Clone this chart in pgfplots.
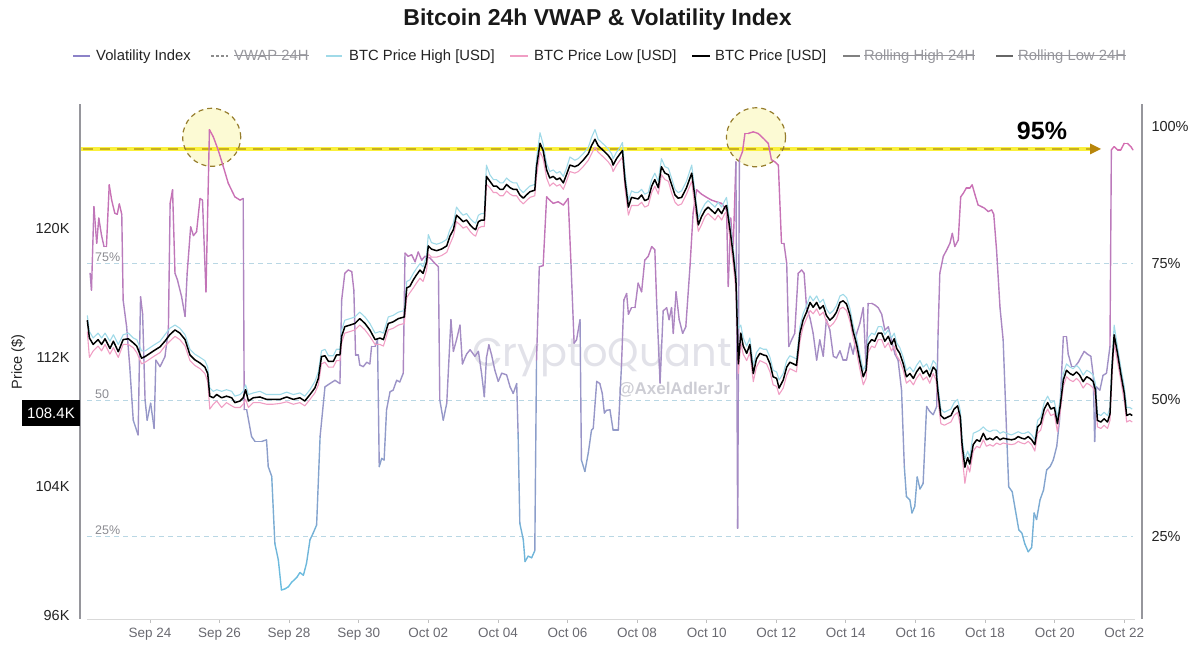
\documentclass[border=0pt]{standalone}
\usepackage{pgfplots}
\pgfplotsset{compat=1.18}
\usepackage{pgfplotstable}
\usepackage{fontspec}
\setmainfont{Liberation Sans}
\newfontfamily\wmfont{Poppins}

\definecolor{hicol}{RGB}{160,218,232}
\definecolor{locol}{RGB}{240,158,196}
\definecolor{gridc}{RGB}{185,215,228}
\definecolor{axc}{RGB}{150,150,156}
\definecolor{ticktxt}{RGB}{35,35,35}
\definecolor{xtxt}{RGB}{105,105,112}
\definecolor{yel}{RGB}{250,240,60}
\definecolor{yeldash}{RGB}{200,175,30}
\definecolor{gold}{RGB}{184,134,11}
\definecolor{circfill}{RGB}{252,250,212}
\definecolor{circline}{RGB}{150,125,45}
\definecolor{wm}{RGB}{226,226,233}
\definecolor{wm2}{RGB}{205,205,212}
\definecolor{volleg}{RGB}{140,130,200}
\definecolor{legtxt}{RGB}{35,35,35}
\definecolor{legoff}{RGB}{150,150,156}
\definecolor{inlab}{RGB}{140,140,146}

\newcommand{\legfont}{\fontsize{14.8}{17}\selectfont}

\pgfplotstableread{
d p h l
-1.80 114.3 114.6 113.6
-1.74 113.2 113.6 112.0
-1.63 112.8 113.2 112.4
-1.49 113.1 113.5 112.7
-1.39 112.8 113.2 112.4
-1.29 113.15 113.5 112.8
-1.15 112.55 113.0 112.2
-1.05 113.0 113.4 112.6
-0.91 112.35 112.8 112.0
-0.77 113.1 113.4 112.8
-0.62 113.15 113.5 112.8
-0.48 112.9 113.2 112.6
-0.38 112.7 113.1 112.3
-0.24 111.95 112.4 111.6
-0.14 112.05 112.4 111.7
0 112.25 112.6 111.9
0.14 112.45 112.8 112.1
0.29 112.65 113.0 112.3
0.43 113.0 113.4 112.7
0.57 113.4 113.8 113.0
0.72 113.7 114.0 113.3
0.86 113.5 113.8 113.1
1.01 113.1 113.4 112.7
1.15 112.15 112.5 111.8
1.29 111.85 112.2 111.5
1.44 111.65 112.0 111.3
1.58 111.4 111.8 111.0
1.66 111.0 111.4 110.5
1.72 109.6 110.1 108.8
1.82 109.5 109.9 109.1
1.92 109.7 110.0 109.3
2.06 109.5 109.9 108.9
2.20 109.6 110.0 109.2
2.35 109.5 109.9 109.0
2.44 109.2 109.6 108.9
2.59 109.3 109.7 108.9
2.68 109.5 109.9 109.1
2.75 110.0 110.3 109.4
2.83 109.3 109.7 108.9
2.97 109.5 109.8 109.2
3.16 109.55 109.9 109.2
3.35 109.4 109.7 109.1
3.54 109.4 109.7 109.1
3.74 109.4 109.7 109.15
3.93 109.55 109.85 109.25
4.12 109.4 109.7 109.1
4.31 109.5 109.8 109.2
4.45 109.3 109.6 109.0
4.60 109.7 110.0 109.4
4.74 110.1 110.5 109.8
4.84 110.7 111.1 110.3
4.93 112.05 112.4 111.6
5.03 112.1 112.5 111.7
5.13 111.75 112.1 111.4
5.27 111.75 112.1 111.4
5.36 112.15 112.5 111.8
5.46 112.15 112.5 111.8
5.51 113.3 113.7 112.9
5.60 113.9 114.3 113.5
5.75 114.0 114.4 113.6
5.89 114.1 114.5 113.7
6.03 114.4 114.8 114.0
6.18 114.1 114.5 113.7
6.32 113.7 114.1 113.3
6.47 113.1 113.5 112.8
6.61 113.2 113.6 112.8
6.71 113.1 113.5 112.7
6.85 114.1 114.5 113.7
6.99 114.2 114.6 113.8
7.14 114.4 114.8 114.0
7.31 114.5 114.9 114.1
7.38 116.3 116.7 115.7
7.47 116.4 116.8 116.0
7.57 116.8 117.2 116.3
7.66 117.1 117.5 116.6
7.76 117.4 117.8 116.9
7.85 117.2 117.6 116.7
7.95 117.9 118.3 117.4
8.00 118.9 119.6 118.4
8.09 118.7 119.1 118.2
8.24 118.6 119.0 118.2
8.38 118.7 119.1 118.3
8.53 118.9 119.3 118.5
8.62 119.5 119.9 119.0
8.72 119.9 120.3 119.5
8.81 120.8 121.3 120.4
8.91 120.6 121.0 120.2
9.00 120.4 120.8 120.0
9.10 120.5 120.9 120.1
9.20 120.2 120.6 119.8
9.29 120.0 120.4 119.6
9.36 119.9 120.3 119.5
9.44 120.4 120.8 120.0
9.53 120.5 120.9 120.1
9.61 120.5 120.9 120.1
9.67 123.2 123.9 122.7
9.77 122.9 123.3 122.5
9.87 122.6 123.0 122.2
9.96 122.6 123.0 122.2
10.06 122.4 122.8 122.0
10.15 122.4 122.8 122.0
10.25 122.7 123.1 122.3
10.35 122.5 122.9 122.1
10.44 122.4 122.8 122.0
10.54 122.4 122.8 122.0
10.63 122.05 122.4 121.7
10.73 121.85 122.2 121.5
10.82 122.05 122.4 121.7
10.92 122.25 122.6 121.9
11.06 122.35 122.7 122.0
11.11 123.8 124.3 123.2
11.21 125.25 125.9 124.7
11.30 124.8 125.2 124.3
11.40 123.6 124.0 123.1
11.49 123.1 123.5 122.6
11.59 123.2 123.6 122.8
11.69 123.0 123.4 122.6
11.78 123.1 123.5 122.7
11.88 122.8 123.2 122.4
11.97 123.3 123.7 122.9
12.07 123.9 124.4 123.5
12.21 123.8 124.2 123.4
12.31 123.9 124.3 123.5
12.45 124.2 124.6 123.8
12.60 124.6 125.0 124.2
12.69 125.1 125.6 124.6
12.79 125.5 126.1 125.0
12.88 125.1 125.5 124.7
12.98 124.9 125.3 124.5
13.08 124.7 125.1 124.3
13.17 124.5 124.9 124.1
13.27 124.2 124.6 123.8
13.31 123.9 124.3 123.5
13.41 124.3 124.7 123.9
13.51 124.6 125.0 124.2
13.58 124.8 125.3 124.4
13.65 123.0 123.5 122.5
13.75 121.3 121.7 120.8
13.84 121.9 122.3 121.4
13.94 121.85 122.2 121.4
14.03 121.8 122.2 121.4
14.13 122.05 122.4 121.6
14.22 121.7 122.1 121.3
14.32 121.8 122.2 121.4
14.42 122.6 123.0 122.2
14.51 123.0 123.4 122.6
14.61 122.5 122.9 122.1
14.70 123.8 124.3 123.3
14.80 123.4 123.8 123.0
14.90 123.3 123.7 122.9
14.99 122.7 123.1 122.2
15.09 122.05 122.4 121.6
15.18 121.85 122.2 121.4
15.28 121.9 122.3 121.5
15.42 122.5 122.9 122.1
15.57 123.4 123.9 122.9
15.66 121.95 122.3 121.3
15.76 120.2 120.6 119.8
15.85 120.7 121.1 120.2
15.95 121.1 121.5 120.7
16.04 121.3 121.7 120.9
16.14 121.1 121.5 120.7
16.24 120.9 121.3 120.5
16.33 121.2 121.6 120.8
16.43 120.9 121.3 120.5
16.52 121.3 121.7 120.9
16.57 121.4 121.9 121.0
16.67 119.9 120.3 119.3
16.76 118.4 118.8 117.8
16.84 116.8 117.3 116.2
16.91 111.6 113.8 111.0
16.98 113.5 114.0 112.9
17.05 112.7 113.2 112.2
17.15 112.25 112.7 111.8
17.24 112.8 113.2 112.3
17.34 111.0 111.5 110.5
17.43 111.9 112.3 111.4
17.53 112.25 112.6 111.8
17.63 112.15 112.5 111.7
17.72 112.1 112.5 111.6
17.82 111.6 112.0 111.1
17.91 110.8 111.2 110.3
18.01 110.7 111.1 110.2
18.08 110.1 110.6 109.7
18.20 110.6 111.0 110.1
18.30 111.4 111.8 110.9
18.39 111.7 112.1 111.3
18.49 111.6 112.0 111.2
18.58 111.5 111.9 111.1
18.68 113.5 113.9 113.0
18.77 114.3 114.7 113.9
18.87 114.8 115.2 114.4
18.97 115.4 115.8 114.9
19.06 115.1 115.5 114.7
19.16 115.4 115.8 115.0
19.25 115.0 115.4 114.6
19.35 115.2 115.6 114.8
19.44 114.6 115.0 114.2
19.54 114.3 114.7 113.9
19.64 114.5 114.9 114.1
19.73 114.8 115.2 114.4
19.83 115.4 115.8 115.0
19.92 115.5 115.9 115.1
20.02 115.3 115.7 114.9
20.12 114.6 115.0 114.2
20.21 113.6 114.0 113.2
20.31 112.8 113.2 112.3
20.40 111.8 112.2 111.3
20.50 110.8 111.2 110.3
20.58 111.2 111.6 110.7
20.64 112.8 113.2 112.3
20.74 113.1 113.5 112.7
20.83 113.0 113.4 112.6
20.93 113.5 113.9 113.1
21.03 113.5 113.9 113.1
21.12 113.0 113.4 112.6
21.22 113.3 113.7 112.9
21.31 112.8 113.2 112.4
21.39 113.15 113.5 112.7
21.46 112.55 112.9 112.1
21.55 112.25 112.6 111.8
21.65 111.6 112.0 111.2
21.74 110.8 111.2 110.4
21.84 111.0 111.4 110.6
21.94 110.7 111.1 110.3
22.03 111.1 111.5 110.7
22.13 111.4 111.8 111.0
22.22 111.0 111.4 110.6
22.32 111.2 111.6 110.8
22.41 110.8 111.2 110.4
22.51 111.4 111.8 111.0
22.59 111.2 111.6 110.6
22.65 109.8 110.2 109.3
22.73 108.4 108.8 107.9
22.83 108.2 108.6 107.8
22.92 108.3 108.7 107.9
23.02 108.4 108.8 108.0
23.11 108.8 109.2 108.4
23.21 109.0 109.4 108.6
23.29 108.3 108.7 107.8
23.34 106.6 107.0 106.0
23.42 105.2 105.7 104.2
23.50 105.8 106.2 105.3
23.56 105.4 105.8 104.9
23.66 106.6 107.3 106.2
23.76 106.9 107.4 106.5
23.85 106.8 107.5 106.4
23.95 107.3 107.7 106.9
24.04 106.9 107.5 106.5
24.14 107.0 107.4 106.6
24.23 106.9 107.5 106.5
24.33 107.1 107.5 106.7
24.43 106.9 107.3 106.6
24.52 107.0 107.4 106.7
24.62 106.95 107.3 106.65
24.76 106.9 107.2 106.6
24.86 106.95 107.3 106.65
24.95 107.1 107.4 106.8
25.05 107.0 107.3 106.7
25.14 106.95 107.3 106.65
25.24 107.1 107.4 106.8
25.34 106.9 107.2 106.6
25.43 106.6 106.9 106.2
25.51 107.7 108.1 107.3
25.60 107.9 108.3 107.5
25.70 108.8 109.2 108.4
25.80 109.2 109.6 108.8
25.89 108.8 109.2 108.4
25.99 108.9 109.3 108.5
26.08 107.9 108.3 107.4
26.16 109.0 109.4 108.6
26.25 110.6 111.0 110.2
26.34 111.2 111.6 110.8
26.44 111.0 111.4 110.6
26.53 110.9 111.3 110.5
26.63 111.1 111.5 110.7
26.72 110.9 111.3 110.5
26.82 110.5 110.9 110.1
26.92 110.8 111.2 110.4
27.01 110.7 111.1 110.3
27.11 110.5 110.9 110.1
27.17 110.0 110.4 109.6
27.23 108.1 108.5 107.7
27.33 108.0 108.4 107.6
27.42 108.2 108.6 107.8
27.52 108.0 108.4 107.6
27.59 108.5 108.9 108.1
27.65 111.4 111.8 110.9
27.71 113.4 114.0 112.9
27.81 112.2 112.6 111.7
27.90 111.0 111.4 110.6
28.00 109.8 110.2 109.3
28.07 108.4 108.9 108.0
28.16 108.5 108.9 108.1
28.23 108.4 108.8 108.0
}\pricetab

\pgfplotstableread{
d v
-1.72 73.2
-1.68 70.1
-1.61 85.4
-1.53 78.7
-1.47 83.3
-1.39 80.1
-1.32 78.1
-1.25 78.1
-1.17 89.4
-1.10 86.6
-1.01 84.2
-0.94 84.0
-0.88 85.9
-0.81 84.0
-0.77 68.3
-0.67 63.4
-0.58 56.1
-0.48 46.3
-0.34 43.6
-0.27 68.9
-0.21 65.7
-0.14 50.0
-0.08 46.3
0.02 49.4
0.12 44.8
0.17 57.3
0.29 56.1
0.43 57.9
0.53 62.8
0.58 86.0
0.65 88.5
0.72 73.2
0.79 72.0
0.91 68.9
1.01 65.3
1.07 73.2
1.17 81.7
1.25 80.1
1.34 80.8
1.44 86.9
1.51 86.6
1.61 69.8
1.71 99.5
1.82 98.2
1.96 95.8
2.11 92.7
2.25 89.7
2.44 87.2
2.59 86.6
2.68 86.9
2.71 48.2
2.78 48.2
2.92 43.3
3.02 42.4
3.21 42.4
3.35 42.7
3.40 37.8
3.50 36.0
3.59 23.7
3.69 20.7
3.78 15.2
3.88 15.4
3.98 15.8
4.07 16.6
4.22 17.5
4.31 18.4
4.41 17.9
4.50 20.1
4.60 24.4
4.69 25.6
4.79 27.1
4.89 43.3
5.03 52.4
5.17 53.0
5.32 53.6
5.46 53.0
5.51 68.3
5.60 73.2
5.70 73.8
5.80 73.5
5.86 70.1
5.91 58.2
5.99 58.2
6.03 56.4
6.13 56.1
6.23 56.9
6.32 56.6
6.37 59.8
6.47 59.8
6.54 61.0
6.59 37.8
6.66 39.3
6.73 39.0
6.80 48.2
6.90 51.5
6.99 51.8
7.09 53.6
7.18 53.3
7.28 54.9
7.33 76.9
7.42 76.3
7.52 76.6
7.62 75.3
7.71 77.1
7.81 75.6
7.90 76.3
8.05 76.0
8.19 75.0
8.29 74.4
8.33 50.0
8.43 46.3
8.53 49.4
8.65 64.7
8.72 58.9
8.81 61.0
8.91 63.7
8.98 56.6
9.10 58.4
9.20 59.2
9.34 58.0
9.44 58.9
9.53 54.9
9.61 50.6
9.67 57.7
9.74 60.1
9.82 58.2
9.91 55.5
10.01 53.4
10.11 54.9
10.25 54.6
10.35 52.4
10.44 51.2
10.54 53.0
10.58 43.9
10.63 27.4
10.73 24.4
10.78 20.4
10.87 21.4
10.97 21.1
11.06 22.4
11.11 57.3
11.19 74.4
11.30 74.6
11.40 87.2
11.49 86.6
11.59 86.0
11.73 86.3
11.88 85.7
12.02 86.9
12.10 75.0
12.19 60.4
12.26 61.0
12.36 64.7
12.40 39.0
12.50 36.9
12.60 40.4
12.69 44.5
12.74 44.8
12.84 53.4
12.93 53.0
13.00 51.2
13.06 47.6
13.12 48.1
13.22 48.2
13.31 44.5
13.46 44.5
13.55 56.1
13.62 68.3
13.70 69.5
13.75 65.7
13.84 66.9
13.94 66.9
14.03 71.4
14.13 69.8
14.22 75.6
14.32 76.3
14.42 78.1
14.51 77.5
14.56 68.3
14.66 53.1
14.75 66.3
14.85 66.9
14.92 64.7
14.99 66.9
15.04 62.2
15.12 69.8
15.21 64.7
15.31 62.2
15.40 63.4
15.52 74.4
15.61 84.2
15.71 88.5
15.85 87.7
16.00 87.1
16.14 86.6
16.28 86.3
16.43 86.0
16.57 84.8
16.62 70.8
16.69 83.3
16.76 77.5
16.84 93.6
16.89 26.5
16.94 94.0
17.03 95.5
17.10 98.8
17.19 98.8
17.34 99.1
17.48 98.8
17.63 97.9
17.77 97.0
17.86 94.0
17.96 93.6
18.06 93.0
18.15 78.7
18.22 78.7
18.30 75.0
18.36 59.8
18.44 61.0
18.53 62.2
18.63 73.2
18.73 73.8
18.80 73.2
18.87 66.9
18.97 65.0
19.06 62.2
19.16 57.3
19.25 61.0
19.35 58.0
19.44 64.7
19.54 62.8
19.64 58.0
19.73 57.7
19.83 59.0
19.92 57.3
20.02 57.3
20.12 60.4
20.21 58.4
20.31 62.2
20.40 64.0
20.50 66.9
20.58 56.1
20.64 67.7
20.74 67.7
20.83 67.4
20.93 66.9
21.03 65.7
21.12 62.8
21.22 63.4
21.31 61.0
21.41 58.4
21.50 57.3
21.60 51.8
21.68 37.8
21.74 32.3
21.84 31.7
21.90 29.3
21.98 30.5
22.05 35.9
22.13 33.7
22.22 34.7
22.32 48.8
22.41 47.9
22.51 47.3
22.61 48.8
22.65 62.2
22.70 73.2
22.80 76.3
22.90 77.5
22.99 78.7
23.06 80.5
23.13 78.1
23.23 79.3
23.30 87.2
23.37 87.8
23.46 88.8
23.56 88.8
23.63 89.4
23.71 87.6
23.80 85.7
23.90 85.4
23.99 85.1
24.09 84.5
24.19 84.8
24.25 84.0
24.33 77.5
24.43 66.9
24.52 61.0
24.62 43.9
24.68 34.1
24.78 33.2
24.87 29.9
24.97 26.2
25.06 25.6
25.14 23.7
25.24 22.2
25.34 23.0
25.41 29.3
25.48 28.1
25.58 31.7
25.68 33.5
25.77 37.2
25.87 37.8
25.96 39.0
26.06 41.5
26.14 46.3
26.20 54.9
26.25 61.6
26.34 61.6
26.39 58.4
26.49 56.1
26.58 56.1
26.68 56.9
26.77 58.0
26.85 58.9
26.94 58.4
27.04 58.0
27.11 54.5
27.15 42.4
27.20 52.4
27.30 51.8
27.39 54.5
27.49 54.9
27.59 59.8
27.63 95.8
27.71 96.4
27.81 95.8
27.90 95.8
28.00 97.0
28.09 97.0
28.19 96.4
28.25 95.8
}\voltab

\begin{document}
\begin{tikzpicture}[x=1pt,y=1pt]
\useasboundingbox (0,0) rectangle (1200,648);

% watermark
\node[text=wm, font=\wmfont\fontsize{40}{40}\selectfont] at (602,290) {CryptoQuant};
\node[text=wm2, font=\bfseries\fontsize{17}{17}\selectfont] at (674,258) {@AxelAdlerJr};

% highlight circles (fill)
\fill[circfill] (211.7,510.7) circle[radius=29pt];
\fill[circfill] (756,510.7) circle[radius=29.5pt];

% 95% yellow line with arrow
\draw[yel, line width=3.6pt] (80,499) -- (1092,499);
\draw[yeldash, line width=1.5pt, dash pattern=on 10pt off 7pt] (83,499) -- (1090,499);
\fill[gold] (1090,504.5) -- (1101,499) -- (1090,493.5) -- cycle;
\node[font=\bfseries\fontsize{25}{25}\selectfont, text=black] at (1042,517) {95\%};

% circle borders
\draw[circline, line width=1.2pt, dash pattern=on 5pt off 4pt] (211.7,510.7) circle[radius=29pt];
\draw[circline, line width=1.2pt, dash pattern=on 5pt off 4pt] (756,510.7) circle[radius=29.5pt];

% ---------- volatility axis (right) ----------
\begin{axis}[
  at={(80pt,29pt)}, anchor=south west,
  scale only axis, width=1062pt, height=515pt,
  xmin=-2.01, xmax=28.51,
  ymin=9.89, ymax=104.2,
  axis x line=none,
  axis y line*=right,
  y axis line style={draw=axc, line width=1.2pt, -},
  ytick={25,50,75,100},
  yticklabels={25\%,50\%,75\%,100\%},
  ytick style={draw=none},
  tick align=outside, major tick length=4pt,
  yticklabel style={font=\fontsize{14.5}{16}\selectfont, text=ticktxt, xshift=2pt},
  colormap={volmap}{rgb255=(100,198,230) rgb255=(115,178,215) rgb255=(140,158,202) rgb255=(158,146,198) rgb255=(178,130,192) rgb255=(198,114,182) rgb255=(215,108,176)},
  point meta min=10, point meta max=100,
  clip=false,
]
\draw[gridc, line width=0.8pt, dash pattern=on 5pt off 4pt] (axis cs:-1.8,25) -- (axis cs:28.25,25);
\draw[gridc, line width=0.8pt, dash pattern=on 5pt off 4pt] (axis cs:-1.8,50) -- (axis cs:28.25,50);
\draw[gridc, line width=0.8pt, dash pattern=on 5pt off 4pt] (axis cs:-1.8,75) -- (axis cs:28.25,75);
\node[anchor=base west, inner sep=0, text=inlab, font=\fontsize{12.5}{14}\selectfont] at ([yshift=1.5pt]axis cs:-1.58,75) {75\%};
\node[anchor=base west, inner sep=0, text=inlab, font=\fontsize{12.5}{14}\selectfont] at ([yshift=1.5pt]axis cs:-1.58,50) {50};
\node[anchor=base west, inner sep=0, text=inlab, font=\fontsize{12.5}{14}\selectfont] at ([yshift=1.5pt]axis cs:-1.58,25) {25\%};
\addplot[mesh, point meta=y, line width=1.4pt, line cap=round, line join=round] table[x=d,y=v] {\voltab};
\end{axis}

% ---------- price axis (left) ----------
\begin{axis}[
  at={(80pt,29pt)}, anchor=south west,
  scale only axis, width=1062pt, height=515pt,
  xmin=-2.01, xmax=28.51,
  ymin=95.81, ymax=127.68,
  axis x line*=bottom, axis y line*=left,
  x axis line style={draw=none, -},
  y axis line style={draw=axc, line width=1.2pt, -},
  tick align=outside, major tick length=4pt,
  xtick={0,2,...,28},
  xticklabels={Sep 24,Sep 26,Sep 28,Sep 30,Oct 02,Oct 04,Oct 06,Oct 08,Oct 10,Oct 12,Oct 14,Oct 16,Oct 18,Oct 20,Oct 22},
  xtick style={draw=black!25, line width=0.8pt},
  xticklabel style={font=\fontsize{13.5}{15}\selectfont, text=xtxt, yshift=-2pt},
  ytick={96,104,112,120},
  yticklabels={96K,104K,112K,120K},
  ytick style={draw=none},
  yticklabel style={font=\fontsize{14.5}{16}\selectfont, text=ticktxt, xshift=-3pt},
  no markers,
  clip=false,
]
\draw[black!15, line width=0.8pt] (axis cs:-1.8,95.81) -- (axis cs:28.3,95.81);
\addplot[hicol, line width=1.1pt, line join=round] table[x=d,y=h] {\pricetab};
\addplot[locol, line width=1.1pt, line join=round] table[x=d,y=l] {\pricetab};
\addplot[black, line width=1.5pt, line join=round] table[x=d,y=p] {\pricetab};
\end{axis}

% current price tag
\node[fill=black, text=white, minimum width=58pt, minimum height=26pt, inner sep=0, font=\fontsize{15}{16}\selectfont] at (51,234.5) {108.4K};
% y label
\node[rotate=90, text=ticktxt, font=\fontsize{14.5}{16}\selectfont] at (18,286) {Price (\$)};

% title
\node[font=\bfseries\fontsize{23}{26}\selectfont, text=black!90] at (597.5,628) {Bitcoin 24h VWAP \& Volatility Index};

% legend
\draw[volleg, line width=2pt] (73,592) -- (90,592);
\node[anchor=base west, inner sep=0, font=\legfont, text=legtxt] at (96,587.7) {Volatility Index};
\draw[black!45, line width=1.6pt, dash pattern=on 3pt off 2pt] (211,592) -- (228,592);
\node[anchor=base west, inner sep=0, font=\legfont, text=legoff] (l2) at (234,587.7) {VWAP 24H};
\draw[legoff, line width=0.8pt] ([yshift=4.6pt]l2.base west) -- ([yshift=4.6pt]l2.base east);
\draw[hicol, line width=2pt] (326,592) -- (342,592);
\node[anchor=base west, inner sep=0, font=\legfont, text=legtxt] at (349,587.7) {BTC Price High [USD]};
\draw[locol, line width=2pt] (510,592) -- (528,592);
\node[anchor=base west, inner sep=0, font=\legfont, text=legtxt] at (534,587.7) {BTC Price Low [USD]};
\draw[black, line width=2pt] (692,592) -- (710,592);
\node[anchor=base west, inner sep=0, font=\legfont, text=legtxt] at (715,587.7) {BTC Price [USD]};
\draw[black!50, line width=2pt] (843,592) -- (860,592);
\node[anchor=base west, inner sep=0, font=\legfont, text=legoff] (l6) at (864,587.7) {Rolling High 24H};
\draw[legoff, line width=0.8pt] ([yshift=4.6pt]l6.base west) -- ([yshift=4.6pt]l6.base east);
\draw[black!60, line width=2pt] (996,592) -- (1013,592);
\node[anchor=base west, inner sep=0, font=\legfont, text=legoff] (l7) at (1018,587.7) {Rolling Low 24H};
\draw[legoff, line width=0.8pt] ([yshift=4.6pt]l7.base west) -- ([yshift=4.6pt]l7.base east);
\end{tikzpicture}
\end{document}
